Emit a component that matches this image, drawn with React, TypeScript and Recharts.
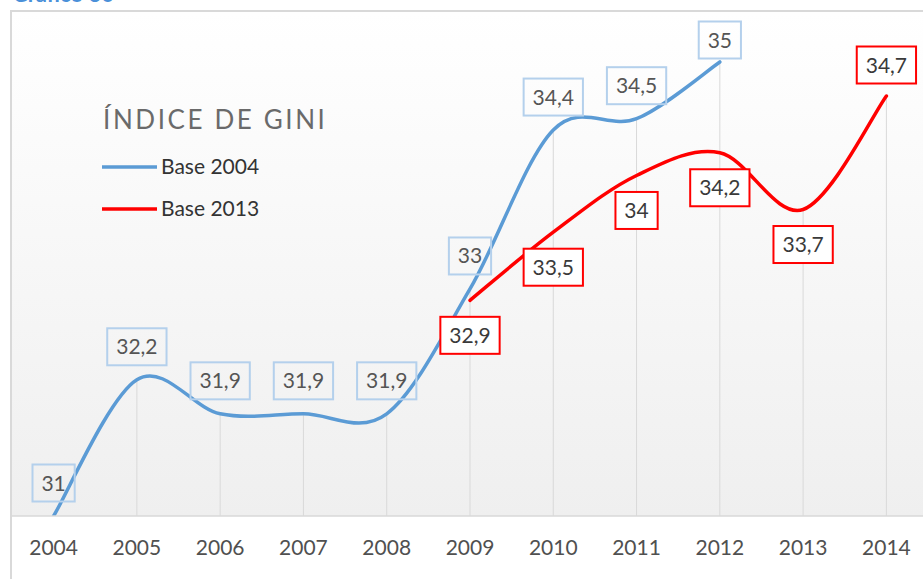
import { LineChart, Line, XAxis, YAxis, CartesianGrid, ReferenceLine, LabelList, Legend } from 'recharts';

const years = ['2004', '2005', '2006', '2007', '2008', '2009', '2010', '2011', '2012', '2013', '2014'];
const base2004 = [31, 32.2, 31.9, 31.9, 31.9, 33, 34.4, 34.5, 35, null, null];
const base2013 = [null, null, null, null, null, 32.9, 33.5, 34, 34.2, 33.7, 34.7];

const data = years.map((year, i) => ({ year, base2004: base2004[i], base2013: base2013[i] }));

// drop lines go from the highest point of each year down to the axis
const dropTops = years.map((_, i) => {
    const vals = [base2004[i], base2013[i]].filter((v) => v != null) as number[];
    return Math.max(...vals);
});

const FONT = 'Lato, "Open Sans", sans-serif';
const BLUE = '#5b9bd5';
const RED = '#ff0000';

// Excel-like smoothed line (Catmull-Rom through the points)
const smoothCurve = (context: any) => {
    let pts: number[][] = [];
    return {
        areaStart() {},
        areaEnd() {},
        lineStart() {
            pts = [];
        },
        lineEnd() {
            if (!pts.length) return;
            context.moveTo(pts[0][0], pts[0][1]);
            for (let i = 0; i < pts.length - 1; i++) {
                const p0 = pts[i - 1] || pts[i];
                const p1 = pts[i];
                const p2 = pts[i + 1];
                const p3 = pts[i + 2] || p2;
                context.bezierCurveTo(
                    p1[0] + (p2[0] - p0[0]) / 6, p1[1] + (p2[1] - p0[1]) / 6,
                    p2[0] - (p3[0] - p1[0]) / 6, p2[1] - (p3[1] - p1[1]) / 6,
                    p2[0], p2[1]
                );
            }
        },
        point(x: number, y: number) {
            pts.push([+x, +y]);
        },
    };
};

const textWidth = (s: string) => s.split('').reduce((w, c) => w + (c === ',' ? 5.5 : 11.6), 0);

const BoxLabel = (props: any) => {
    const { x, y, value, index, series } = props;
    if (value == null || x == null || y == null) return null;
    const text = String(value).replace('.', ',');
    const w = textWidth(text) + 19;
    const h = 37;
    let cy;
    if (series === 'blue') cy = Math.max(y - 33, 40);
    else cy = index === years.length - 1 ? y - 31 : y + 35;
    const isRed = series === 'red';
    return (
        <g>
            <rect x={x - w / 2} y={cy - h / 2} width={w} height={h}
                fill={isRed ? '#ffffff' : 'none'} stroke={isRed ? RED : '#b4d0ec'} strokeWidth={2} />
            <text x={x} y={cy + 7.5} textAnchor="middle" fontSize={21} fontFamily={FONT}
                fill={isRed ? '#3a3a3a' : '#555555'}>{text}</text>
        </g>
    );
};

const YearTick = (props: any) => (
    <text x={props.x} y={555} textAnchor="middle" fontSize={21} fontFamily={FONT} fill="#505050">
        {props.payload.value}
    </text>
);

const LegendBox = (props: any) => (
    <svg width={400} height={240} style={{ display: 'block' }}>
        <text x={103} y={129} fontSize={26} fontFamily={FONT} letterSpacing={2.6} fill="#6a6a6a">
            ÍNDICE DE GINI
        </text>
        {(props.payload || []).map((item: any, i: number) => (
            <g key={item.value}>
                <line x1={102} x2={157} y1={167 + i * 42} y2={167 + i * 42} stroke={item.color} strokeWidth={3.5} />
                <text x={161} y={174 + i * 42} fontSize={21} fontFamily={FONT} fill="#333333">{item.value}</text>
            </g>
        ))}
    </svg>
);

export default function App() {
    return (
        <div style={{ position: 'absolute', left: 0, top: 0, width: 923, height: 579, overflow: 'hidden', background: '#fff' }}>
            <div style={{ position: 'absolute', left: 12, top: -20, fontFamily: FONT, fontWeight: 700, fontSize: 22, color: '#4a90d9' }}>
                Gráfico 36
            </div>
            <div style={{ position: 'absolute', left: 0, top: 0 }}>
                <LineChart width={940} height={600} data={data} margin={{ top: 12, right: 12, left: 12, bottom: 0 }}>
                    <defs>
                        <linearGradient id="plotBg" x1="0" y1="0" x2="0" y2="1">
                            <stop offset="0%" stopColor="#ffffff" />
                            <stop offset="100%" stopColor="#efefef" />
                        </linearGradient>
                    </defs>
                    <CartesianGrid horizontal={false} vertical={false} fill="url(#plotBg)" />
                    <XAxis dataKey="year" height={84} padding={{ left: 41.6, right: 41.6 }} tickLine={false}
                        axisLine={{ stroke: '#d9d9d9', strokeWidth: 1.5 }} tick={<YearTick />} interval={0} />
                    <YAxis hide domain={[31, 35.44]} type="number" allowDataOverflow />
                    {years.map((year, i) => (
                        <ReferenceLine key={year} segment={[{ x: year, y: 31 }, { x: year, y: dropTops[i] }]}
                            stroke="#d9d9d9" strokeWidth={1} ifOverflow="visible" />
                    ))}
                    <Legend layout="vertical" align="center" verticalAlign="middle" content={<LegendBox />}
                        wrapperStyle={{ left: 0, top: 0, width: 400, height: 240 }} />
                    <Line dataKey="base2004" name="Base 2004" type={smoothCurve as any} stroke={BLUE} strokeWidth={3.5}
                        strokeLinecap="round" dot={false} activeDot={false} isAnimationActive={false}>
                        <LabelList dataKey="base2004" content={(p: any) => <BoxLabel {...p} series="blue" />} />
                    </Line>
                    <Line dataKey="base2013" name="Base 2013" type={smoothCurve as any} stroke={RED} strokeWidth={3.5}
                        strokeLinecap="round" dot={false} activeDot={false} isAnimationActive={false}>
                        <LabelList dataKey="base2013" content={(p: any) => <BoxLabel {...p} series="red" />} />
                    </Line>
                </LineChart>
            </div>
            <div style={{ position: 'absolute', left: 10, top: 10, width: 960, height: 620, border: '2px solid #d9d9d9', pointerEvents: 'none' }} />
        </div>
    );
}
